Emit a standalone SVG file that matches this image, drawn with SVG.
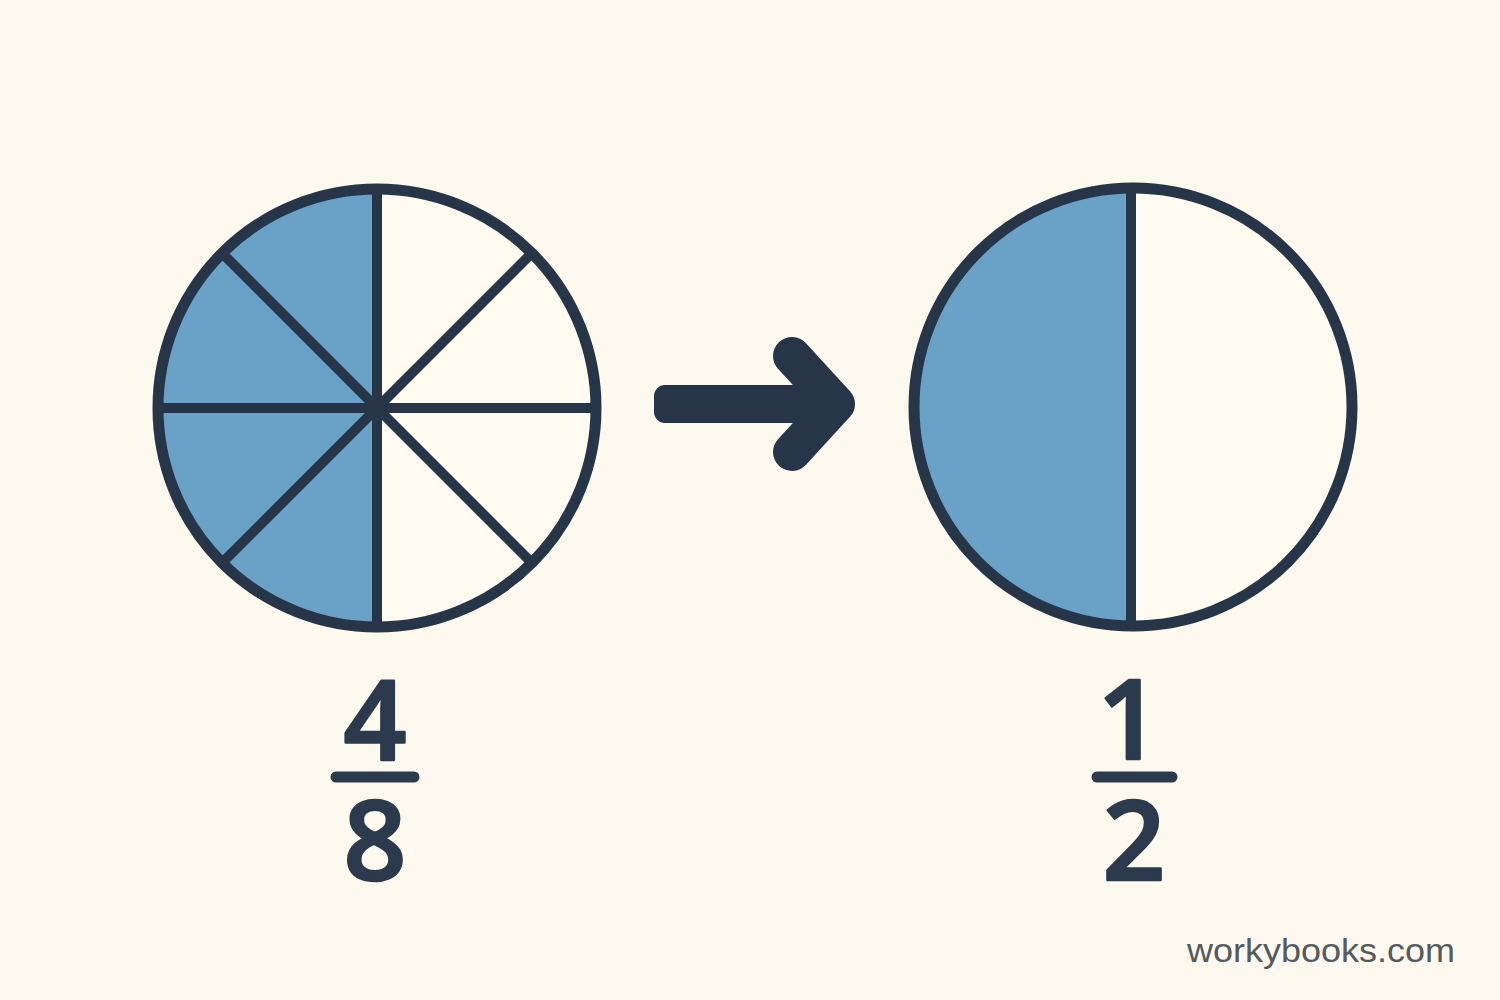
<svg xmlns="http://www.w3.org/2000/svg" width="1500" height="1000" viewBox="0 0 1500 1000">
  <style>
    .spoke { stroke: #263648; stroke-width: 10; }
    .rim { stroke: #263648; stroke-width: 11; fill: none; }
    .blue { fill: #6aa1c7; }
    .cream { fill: #fffbf1; }
    .num { font-family: "Open Sans", "Noto Sans", sans-serif; font-weight: 600; font-size: 110px; fill: #2b3a4d; stroke: #2b3a4d; stroke-width: 2.5; stroke-linejoin: round; text-anchor: middle; }
    .bar { stroke: #2b3a4d; stroke-width: 11; stroke-linecap: round; }
    .mark { font-family: "Liberation Sans", Arial, sans-serif; font-size: 34px; fill: #555a60; }
  </style>
  <rect width="1500" height="1000" fill="#fdf9ee"/>

  <g id="circle-eighths">
    <circle class="cream" cx="377" cy="408" r="219"/>
    <path class="blue" d="M377,189 A219,219 0 0 0 377,627 Z"/>
    <line class="spoke" x1="377" y1="190" x2="377" y2="626"/>
    <line class="spoke" x1="159" y1="408" x2="595" y2="408"/>
    <line class="spoke" x1="222" y1="253" x2="532" y2="563"/>
    <line class="spoke" x1="532" y1="253" x2="222" y2="563"/>
    <circle class="rim" cx="377" cy="408" r="219"/>
  </g>

  <g id="circle-halves">
    <circle class="cream" cx="1133" cy="407" r="219"/>
    <path class="blue" d="M1131,188 A219,219 0 0 0 1131,626 Z"/>
    <line class="spoke" x1="1131" y1="189" x2="1131" y2="625" stroke-width="11"/>
    <circle class="rim" cx="1133" cy="407" r="219"/>
  </g>

  <g id="connectors">
    <g id="arrow">
      <rect x="654" y="385" width="175" height="38" rx="11" fill="#263648"/>
      <polyline points="792,356 836,404 792,452" fill="none" stroke="#263648" stroke-width="38" stroke-linecap="round" stroke-linejoin="round"/>
    </g>
  </g>

  <g id="fraction-4-8">
    <text class="num" x="375" y="760">4</text>
    <line class="bar" x1="336" y1="777" x2="414" y2="777"/>
    <text class="num" x="375" y="880">8</text>
  </g>

  <g id="fraction-1-2">
    <text class="num" x="1129" y="759">1</text>
    <line class="bar" x1="1097" y1="777" x2="1172" y2="777"/>
    <text class="num" x="1134" y="880">2</text>
  </g>

  <g id="watermark">
    <text class="mark" x="1187" y="962" textLength="268" lengthAdjust="spacingAndGlyphs">workybooks.com</text>
  </g>
</svg>
